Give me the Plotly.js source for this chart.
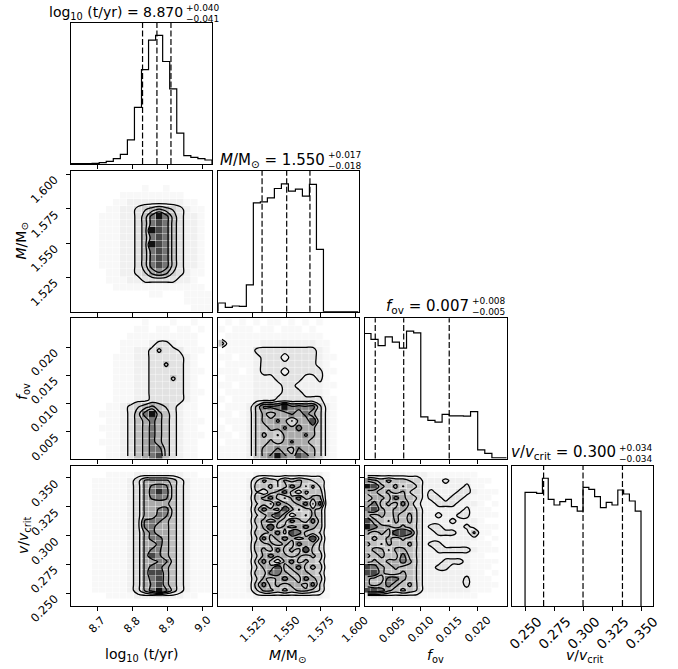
<!DOCTYPE html>
<html><head><meta charset="utf-8">
<script src="https://cdn.plot.ly/plotly-3.0.1.min.js"></script>
<style>body{margin:0;background:#fff}#plot{width:678px;height:669px}</style>
</head><body><div id="plot"></div>
<script>
// ---------- 1D marginal histograms (counts) ----------
const tHist   = [1,1,1,2,4,8,16,29,72,169,282,370,384,306,224,92,25,20,16,12];
const mHist   = [26,13,17,16,80,325,328,340,368,382,360,366,345,380,186,0,0,0,0,0];
const fovHist = [360,343,325,350,335,318,367,362,120,110,105,127,123,123,122,135,25,15,2,2];
const vHist   = [340,340,337,382,319,302,312,319,297,284,355,349,327,294,310,302,347,335,314,284];

// quantiles (16, 50, 84 %)
const tQuant   = [8.829, 8.870, 8.910];
const mQuant   = [1.532, 1.550, 1.567];
const fovQuant = [0.002, 0.007, 0.015];
const vQuant   = [0.266, 0.300, 0.334];

// titles / labels
const titleMain = ['log<sub>10</sub> (t/yr) = 8.870','<i>M</i>/M<sub>⊙</sub> = 1.550','<i>f</i><sub>ov</sub> = 0.007','<i>v</i>/<i>v</i><sub>crit</sub> = 0.300'];
const titleUp   = ['+0.040','+0.017','+0.008','+0.034'];
const titleLo   = ['−0.041','−0.018','−0.005','−0.034'];
const axisLabels = ['log<sub>10</sub> (t/yr)','<i>M</i>/M<sub>⊙</sub>','<i>f</i><sub>ov</sub>','<i>v</i>/<i>v</i><sub>crit</sub>'];
const tickVals = [[8.7,8.8,8.9,9.0],[1.525,1.55,1.575,1.6],[0.005,0.01,0.015,0.02],[0.25,0.275,0.3,0.325,0.35]];
const tickText = [['8.7','8.8','8.9','9.0'],['1.525','1.550','1.575','1.600'],['0.005','0.010','0.015','0.020'],['0.250','0.275','0.300','0.325','0.350']];

// ---------- 2D density grids (rows = y bins from bottom, cols = x bins) ----------
// t (x) vs M (y)
const densTM = [
[0,0,0,0,0,0,0,0,0,0,0,0,0,0,0,0,0,.5,.5,.5],
[0,0,0,0,0,0,0,0,0,0,0,0,0,0,0,0,.5,.5,.5,.5],
[0,0,0,0,0,0,0,0,0,0,0,.5,.5,0,0,0,.5,.5,.5,.5],
[0,0,0,0,0,0,.5,.5,.5,.5,.5,.5,.5,.5,.5,.5,.5,.5,.5,0],
[0,0,0,0,0,.5,.5,.5,1,1,2,2,2,2,2,1,1,.5,0,0],
[0,0,0,0,0,.5,.5,1,1,2,3,5,6,5,3,2,1,.5,.5,0],
[0,0,0,0,.5,.5,.5,1,1,2,4,7,8,7,4,2,1,1,.5,0],
[0,0,0,0,.5,.5,.5,1,1,2,4,7,8,7,4,2,1,1,.5,0],
[0,0,0,0,.5,.5,.5,1,1,2,4,7,8,7,4,2,1,1,.5,0],
[0,0,0,0,.5,.5,.5,1,1,2,4,9,8,7,4,2,1,1,.5,0],
[0,0,0,0,.5,.5,.5,1,1,2,4,7,8,7,4,2,1,1,.5,0],
[0,0,0,0,.5,.5,.5,1,1,2,4,9,8,7,4,2,1,1,.5,0],
[0,0,0,0,.5,.5,.5,1,1,2,4,7,8,7,4,2,1,1,.5,0],
[0,0,0,0,.5,.5,.5,1,1,2,4,7,9,7,4,2,1,1,.5,0],
[0,0,0,0,0,.5,.5,1,1,2,3,4,5,4,3,2,1,.5,.5,0],
[0,0,0,0,0,0,.5,.5,1,1,1,1,1,1,1,1,.5,.5,0,0],
[0,0,0,0,0,0,0,.5,.5,.5,.5,.5,.5,.5,.5,.5,0,0,0,0],
[0,0,0,0,0,0,0,0,0,0,.5,0,0,.5,0,0,0,0,0,0],
[0,0,0,0,0,0,0,0,0,0,0,0,0,0,0,0,0,0,0,0],
[0,0,0,0,0,0,0,0,0,0,0,0,0,0,0,0,0,0,0,0]];
// t (x) vs f_ov (y)
const densTF = [
[0,0,0,0,0,.5,.5,1,2,4,5,7,8,4,2,1,.5,.5,0,0],
[0,0,0,0,0,.5,.5,1,2,4,5,7,7,4,2,1,.5,.5,0,0],
[0,0,0,0,.5,.5,.5,1,2,4,5,7,5,4,2,1,.5,.5,0,0],
[0,0,0,0,0,.5,.5,1,2,4,5,7,5,4,2,1,.5,.5,.5,0],
[0,0,0,0,.5,.5,.5,1,2,4,5,7,5,4,2,1,.5,.5,0,0],
[0,0,0,0,0,.5,.5,1,2,4,5,7,5,4,2,1,.5,.5,.5,0],
[0,0,0,0,.5,.5,.5,1,2,4,7,9,5,4,2,1,.5,.5,0,0],
[0,0,0,0,0,.5,.5,1,2,3,4,5,4,3,2,1,.5,.5,0,0],
[0,0,0,0,0,0,.5,.5,.5,1,1,2,2,2,2,2,1,.5,0,0],
[0,0,0,0,0,0,.5,.5,.5,1,1,2,2,2,2,2,1,.5,.5,0],
[0,0,0,0,0,0,.5,.5,.5,1,1,2,2,2,2,2,1,.5,0,0],
[0,0,0,0,0,0,.5,.5,.5,1,1,2,2,2,3.5,2,1,.5,0,0],
[0,0,0,0,0,0,.5,.5,.5,1,1,2,2,2,2,2,1,.5,.5,0],
[0,0,0,0,0,0,.5,.5,.5,1,1,2,2,3.5,2,2,1,.5,0,0],
[0,0,0,0,0,0,.5,.5,.5,1,1,2,2,2,2,2,1,.5,0,0],
[0,0,0,0,0,0,0,.5,.5,1,1,2,3.5,2,2,1.4,.5,.5,.5,0],
[0,0,0,0,0,0,0,.5,.5,.5,.5,1,2,2,1,.5,.5,.5,0,0],
[0,0,0,0,0,0,0,0,.5,.5,.5,.5,.5,.5,.5,.5,.5,.5,0,0],
[0,0,0,0,0,0,0,0,0,.5,.5,0,.5,.5,0,.5,.5,0,.5,0],
[0,0,0,0,0,0,0,0,0,0,.5,0,0,0,.5,0,0,.5,0,0]];
// t (x) vs v/vcrit (y)
const densTV = [
[0,0,0,0,0,.5,.5,.5,.5,1,1,1,1,1,1,1,.5,.5,0,0],
[0,0,0,.5,.5,.5,.5,.5,1,2.5,5,7,9,6.5,4,2,1,.5,.5,.5],
[0,0,0,.5,.5,.5,.5,.5,1,2.5,5,6.5,8,5,4,2,1,.5,.5,.5],
[0,0,0,.5,.5,.5,.5,.5,1,2.5,5,7,8,5,4,2,1,.5,.5,.5],
[0,0,0,.5,.5,.5,.5,.5,1,2.5,5,8,8,5,4,2,1,.5,.5,.5],
[0,0,0,.5,.5,.5,.5,.5,1,2.5,5,7,7,5,4,2,1,.5,.5,.5],
[0,0,0,.5,.5,.5,.5,.5,1,2.5,5,5,6.5,6.5,4,2,1,.5,.5,.5],
[0,0,0,.5,.5,.5,.5,.5,1,2.5,5,8,6.5,5,4,2,1,.5,.5,.5],
[0,0,0,.5,.5,.5,.5,.5,1,2.5,5,6.5,6.5,5,4,2,1,.5,.5,.5],
[0,0,0,.5,.5,.5,.5,.5,1,2.5,5,5,7,5,4,2,1,.5,.5,.5],
[0,0,0,.5,.5,.5,.5,.5,1,2.5,5,7,7,5,4,2,1,.5,.5,.5],
[0,0,0,.5,.5,.5,.5,.5,1,2.5,5,7,5,5,4,2,1,.5,.5,.5],
[0,0,0,.5,.5,.5,.5,.5,1,2.5,6.5,7,5,5,4,2,1,.5,.5,.5],
[0,0,0,.5,.5,.5,.5,.5,1,2.5,6.5,7,6.5,5,4,2,1,.5,.5,.5],
[0,0,0,.5,.5,.5,.5,.5,1,2.5,5,5,7,6.5,4,2,1,.5,.5,.5],
[0,0,0,.5,.5,.5,.5,.5,1,2.5,5,5,6.5,7,4,2,1,.5,.5,.5],
[0,0,0,.5,.5,.5,.5,.5,1,2.5,5,5,5,5,4,2,1,.5,.5,.5],
[0,0,0,.5,.5,.5,.5,.5,1,2.5,5,6.5,7,6.5,4,2,1,.5,.5,.5],
[0,0,0,.5,.5,.5,.5,.5,1,2.5,5,7,8.5,7,4,2,1,.5,.5,.5],
[0,0,0,.5,.5,.5,.5,.5,1,2.5,5,6.5,7,6.5,4,2,1,.5,.5,.5],
[0,0,0,.5,.5,.5,.5,.5,1,2.5,5,5,5,5,4,2,1,.5,.5,.5],
[0,0,0,0,0,.5,.5,.5,.5,1,1,1,1,1,1,1,.5,.5,0,0]];
// M (x) vs f_ov (y)
const densMF = [
[.5,.5,.5,.5,1,3.5,5,6.5,9,6.5,5,8,7,5,3.5,1,.5,0,0,0],
[.5,.5,.5,.5,1,3.5,5,5,6.5,5,4,6.5,5,5,3.5,1,.5,0,0,0],
[0,.5,.5,.5,1,3.5,4,5,4,5,6.5,5,5,4,3.5,1,.5,0,0,0],
[.5,.5,0,.5,1,3.5,5,4,3,5,5,5,6.5,5,3.5,1,.5,0,0,0],
[.5,0,.5,.5,1,3.5,4,5,5,6.5,5,7,5,5,3.5,1,.5,0,0,0],
[0,.5,.5,.5,1,3.5,5,5,6.5,5,3,5,5,8,3.5,1,.5,0,0,0],
[.5,.5,0,.5,1,3.5,5,4,5,5,6.5,5,7,5,3.5,1,.5,0,0,0],
[0,.5,.5,.5,1,3.5,6.5,6.5,7,9,6.5,7,6.5,7,3.5,1,.5,0,0,0],
[.5,0,.5,.5,.5,1,1,1,2,2,2,2,2,2,2,.5,.5,0,0,0],
[0,.5,.5,.5,.5,1,1,1,1,2,2,2,1,1,1,.5,0,0,0,0],
[.5,.5,0,.5,.5,1,1,1,1,2,2,1,1,1,1,.5,.5,0,0,0],
[0,.5,.5,.5,.5,1,1,1,2,2,2,2,1,1,2,.5,0,0,0,0],
[.5,.5,.5,0,.5,1,2,2,2,1,2,2,2,2,2,.5,.5,0,0,0],
[0,.5,.5,.5,.5,1,2,2,2,2,2,2,2,2,1,.5,0,0,0,0],
[.5,.5,0,.5,.5,1,2,2,2,1,2,2,2,2,1,.5,.5,0,0,0],
[0,.5,.5,.5,.5,2,2,2,2,2,2,2,2,2,1,.5,0,0,0,0],
[4,.5,.5,.5,.5,.5,1,1,1,1,1,1,1,1,.5,.5,0,0,0,0],
[0,.5,.5,.5,.5,.5,.5,.5,.5,.5,.5,.5,.5,.5,.5,0,0,0,0,0],
[.5,0,.5,.5,.5,0,.5,.5,0,.5,.5,.5,0,.5,0,0,0,0,0,0],
[0,.5,0,.5,0,.5,0,.5,.5,0,.5,0,.5,0,.5,0,0,0,0,0]];
// M (x) vs v/vcrit (y)
const densMV = [
[.5,.5,.5,.5,.5,1,1,1,1,1,1,1,1,1,1,.5,0,0,0,0],
[.5,.5,.5,.5,1,3,5,5,4,5,4,5,5,4,3,.5,0,0,0,0],
[.5,.5,.5,.5,1,4,7,4,5,4,5,5,4,7,3,.5,0,0,0,0],
[.5,.5,.5,.5,1,3,5,4,5,7,5,4,7,5,4,.5,0,0,0,0],
[.5,.5,.5,.5,1,4,4,7,7,5,4,5,5,4,3,.5,0,0,0,0],
[.5,.5,.5,.5,1,3,5,5,8,4,5,7,4,5,4,.5,0,0,0,0],
[.5,.5,.5,.5,1,4,7,4,2,5,7,4,5,4,3,.5,0,0,0,0],
[.5,.5,.5,.5,1,3,5,7,5,5,4,5,4,5,4,.5,0,0,0,0],
[.5,.5,.5,.5,1,4,5,4,7,4,5,4,8,4,3,.5,0,0,0,0],
[.5,.5,.5,.5,1,4,4,5,4,5,4,7,5,5,3,.5,0,0,0,0],
[.5,.5,.5,.5,1,3,7,4,5,7,5,4,5,8,4,.5,0,0,0,0],
[.5,.5,.5,.5,1,4,4,5,7,4,8,7,4,4,3,.5,0,0,0,0],
[.5,.5,.5,.5,1,3,5,8,4,5,4,5,7,5,4,.5,0,0,0,0],
[.5,.5,.5,.5,1,4,5,4,5,4,7,5,4,7,4,.5,0,0,0,0],
[.5,.5,.5,.5,1,3,4,6,8,5,2,4,3,5,4,.5,0,0,0,0],
[.5,.5,.5,.5,1,4,7,5,4,8,5,3,4,5,4,.5,0,0,0,0],
[.5,.5,.5,.5,1,3,4,3,7,5,4,5,7,3,7,.5,0,0,0,0],
[.5,.5,.5,.5,1,4,5,7,4,3,5,7,4,5,5,.5,0,0,0,0],
[.5,.5,.5,.5,1,3,2,4,5,7,4,2,5,4,4,.5,0,0,0,0],
[.5,.5,.5,.5,1,4,4,5,3,4,7,5,3,5,3,.5,0,0,0,0],
[.5,.5,.5,.5,1,3,5,4,3,5,4,5,4,3,3,.5,0,0,0,0],
[.5,.5,.5,.5,.5,1,1,1,1,1,1,1,1,1,1,.5,0,0,0,0]];
// f_ov (x) vs v/vcrit (y)
const densFV = [
[1,1,1,1,1,1,1,1,.5,.5,.5,.5,.5,.5,.5,.5,0,0,0,0],
[8,8,7,5,4,5,4,3,1,1,1,1,1,1,1,.5,.5,.5,0,0],
[5,4,5,7,5,4,5,3,1,1,1,1,1,1,2,.5,.5,.5,.5,0],
[5,4,4,7,7,5,4,3,1,1,1,1,1,1,2,.5,.5,.5,0,0],
[8,8,5,4,4,5,4,3,1,1,1,1,1,1,1,.5,.5,0,.5,0],
[8,7,5,4,5,4,4,3,1,1,2,2,1,1,1,.5,.5,.5,0,0],
[4,5,4,5,5,7,5,3,1,1,1,2,2,2,1,.5,.5,.5,.5,0],
[5,4,5,4,4,7,4,3,1,1,1,1,1,1,1,.5,.5,0,0,0],
[4,5,5,3,5,5,4,3,1,1,2,2,2,2,2,1,.5,.5,.5,0],
[5,4,3,5,4,4,5,3,1,2,2,1,1,1,1,.5,.5,.5,0,0],
[4,5,4,5,4,5,4,3,1,1,1,1,1,1,1,1,.5,0,.5,0],
[5,4,5,4,8,8,7,3,1,1,2,2,2,1,1,3.5,.5,.5,0,0],
[9,7,5,5,4,5,4,3,1,2,2,1,1,1,2,1,.5,.5,.5,0],
[8,5,4,3,5,4,5,3,1,1,1,1,2,1,1,1,.5,0,0,0],
[5,4,5,4,5,4,5,3,1,1,2,1,1,2,2,.5,.5,.5,.5,0],
[7,8,5,4,5,5,4,3,1,1,1,1,1,1,2,.5,.5,.5,0,0],
[5,7,4,5,4,7,4,2,1,1,2,2,2,1,1,1,.5,0,.5,0],
[4,5,5,4,7,5,4,3,1,2,2,1,2,2,1,.5,.5,.5,0,0],
[5,5,4,5,4,5,3,3,1,2,1,1,1,2,2,1,.5,.5,.5,0],
[9,8,5,4,5,3,4,3,1,1,1,1,1,1,2,.5,.5,0,0,0],
[6,5,4,5,4,4,3,3,1,1,1,2,1,1,1,.5,.5,.5,0,0],
[1,1,1,1,1,1,1,1,1,.5,.5,.5,.5,.5,.5,.5,0,0,0,0]];

// ---------- binning / geometry ----------
const hist1D = [tHist, mHist, fovHist, vHist];
const quants = [tQuant, mQuant, fovQuant, vQuant];
const bins1D = [{s:8.625,w:0.0201},{s:1.5,w:0.005125},{s:0,w:0.00125},{s:0.25,w:0.005}];
const bins2D = [{s:8.625,w:0.0201,n:20},{s:1.5,w:0.005125,n:20},{s:0,w:0.00125,n:20},{s:0.245,w:0.005,n:22}];
const ranges = [[8.625,9.027],[1.5,1.6025],[0.0002,0.0251],[0.2390,0.3606]];
const dens = {'10':densTM,'20':densTF,'21':densMF,'30':densTV,'31':densMV,'32':densFV};

const W=678, H=669;
const colPx=[[71,212],[218.3,358.5],[365,506.7],[512.3,653.3]];
const rowPx=[[22.5,164],[171,311.7],[318.3,458.5],[465.5,606]];
const FONT='DejaVu Sans';

const gray=[[0,'#ffffff'],[0.5/9,'#f8f8f8'],[1/9,'#f0f0f0'],[2/9,'#e2e2e2'],[3/9,'#d1d1d1'],[4/9,'#bfbfbf'],[5/9,'#aaaaaa'],[6/9,'#919191'],[7/9,'#757575'],[8/9,'#484848'],[1,'#111111']];

function edges(b,n){const e=[];for(let k=0;k<=n;k++)e.push(b.s+k*b.w);return e;}
function centers(b,n){const e=[];for(let k=0;k<n;k++)e.push(b.s+(k+0.5)*b.w);return e;}

const layout={width:W,height:H,margin:{l:0,r:0,t:0,b:0},showlegend:false,
  paper_bgcolor:'#fff',plot_bgcolor:'#fff',font:{family:FONT,color:'#000'},shapes:[],annotations:[]};
const traces=[];
const nOf={};
let n=0;
for(let r=0;r<4;r++){for(let c=0;c<=r;c++){
  n++; nOf[r+''+c]=n;
  const xa='x'+n, ya='y'+n;
  const base={showline:true,mirror:true,linecolor:'#000',linewidth:1,ticks:'outside',ticklen:4,tickwidth:1,
    tickcolor:'#000',showticklabels:false,showgrid:false,zeroline:false,fixedrange:true};
  layout['xaxis'+n]=Object.assign({},base,{domain:[colPx[c][0]/W,colPx[c][1]/W],range:ranges[c],anchor:ya,
    tickmode:'array',tickvals:tickVals[c]});
  const ydom=[1-rowPx[r][1]/H,1-rowPx[r][0]/H];
  if(r===c){
    const h=hist1D[c], b=bins1D[c];
    const e=edges(b,h.length);
    const xs=[e[0]], ys=[0];
    for(let k=0;k<h.length;k++){xs.push(e[k]);ys.push(h[k]);}
    xs.push(e[h.length]); ys.push(0);
    traces.push({type:'scatter',mode:'lines',x:xs,y:ys,xaxis:xa,yaxis:ya,line:{color:'#000',width:1.2,shape:'hv'},hoverinfo:'skip'});
    layout['yaxis'+n]=Object.assign({},base,{domain:ydom,range:[0,1.1*Math.max(...h)],anchor:xa,ticks:''});
    quants[c].forEach(q=>layout.shapes.push({type:'line',xref:xa,yref:ya+' domain',x0:q,x1:q,y0:0,y1:1,
      line:{color:'#000',width:1.2,dash:'6px,2.5px'}}));
  } else {
    layout['yaxis'+n]=Object.assign({},base,{domain:ydom,range:ranges[r],anchor:xa,tickmode:'array',tickvals:tickVals[r]});
    const z=dens[r+''+c], bx=bins2D[c], by=bins2D[r];
    traces.push({type:'heatmap',x:edges(bx,bx.n),y:edges(by,by.n),z:z,xaxis:xa,yaxis:ya,zmin:0,zmax:9,
      colorscale:gray,showscale:false,hoverinfo:'skip',xgap:0.4,ygap:0.4});
    traces.push({type:'contour',x:centers(bx,bx.n),y:centers(by,by.n),z:z,xaxis:xa,yaxis:ya,autocontour:false,
      contours:{start:1.55,end:6.2,size:1.55,coloring:'none'},line:{color:'#000',width:1.3,smoothing:1},
      showscale:false,hoverinfo:'skip'});
  }
}}

// tick labels (rotated, as in the reference)
const ann=layout.annotations;
[0,1,2,3].forEach(c=>{
  const nn=nOf['3'+c];
  tickVals[c].forEach((v,i)=>ann.push({xref:'x'+nn,yref:'paper',x:v,y:1-612/H,xanchor:'center',yanchor:'top',borderpad:0,
    textangle:-45,text:tickText[c][i],showarrow:false,font:{family:FONT,size:c===3?13.5:11,color:'#000'}}));
});
[1,2,3].forEach(r=>{
  const nn=nOf[r+'0'];
  tickVals[r].forEach((v,i)=>ann.push({xref:'paper',yref:'y'+nn,x:63/W,y:v,xanchor:'right',yanchor:'top',yshift:3,borderpad:0,
    textangle:-45,text:tickText[r][i],showarrow:false,font:{family:FONT,size:11.5,color:'#000'}}));
});
// axis titles
const botX=[141,287,435,584], botY=[655,656,656,656];
axisLabels.forEach((t,c)=>ann.push({xref:'paper',yref:'paper',x:botX[c]/W,y:1-botY[c]/H,xanchor:'center',yanchor:'middle',
  text:t,showarrow:false,font:{family:FONT,size:14,color:'#000'}}));
const leftX=[0,21.5,23,24], leftY=[0,241,392,536];
[1,2,3].forEach(r=>ann.push({xref:'paper',yref:'paper',x:leftX[r]/W,y:1-leftY[r]/H,xanchor:'center',yanchor:'middle',
  textangle:-90,text:axisLabels[r],showarrow:false,font:{family:FONT,size:14,color:'#000'}}));
// panel titles with asymmetric errors
const tRight=[184,326,470,617], tCy=[13,161,306,453], tSize=[14,15,15,15];
titleMain.forEach((t,k)=>{
  ann.push({xref:'paper',yref:'paper',x:tRight[k]/W,y:1-tCy[k]/H,xanchor:'right',yanchor:'middle',text:t,showarrow:false,borderpad:0,
    font:{family:FONT,size:tSize[k],color:'#000'}});
  ann.push({xref:'paper',yref:'paper',x:(tRight[k]+1)/W,y:1-(tCy[k]-5.5)/H,xanchor:'left',yanchor:'middle',text:titleUp[k],showarrow:false,borderpad:0,
    font:{family:FONT,size:9,color:'#000'}});
  ann.push({xref:'paper',yref:'paper',x:(tRight[k]+1)/W,y:1-(tCy[k]+5.5)/H,xanchor:'left',yanchor:'middle',text:titleLo[k],showarrow:false,borderpad:0,
    font:{family:FONT,size:9,color:'#000'}});
});

Plotly.newPlot('plot',traces,layout,{staticPlot:true,displayModeBar:false});
</script></body></html>
